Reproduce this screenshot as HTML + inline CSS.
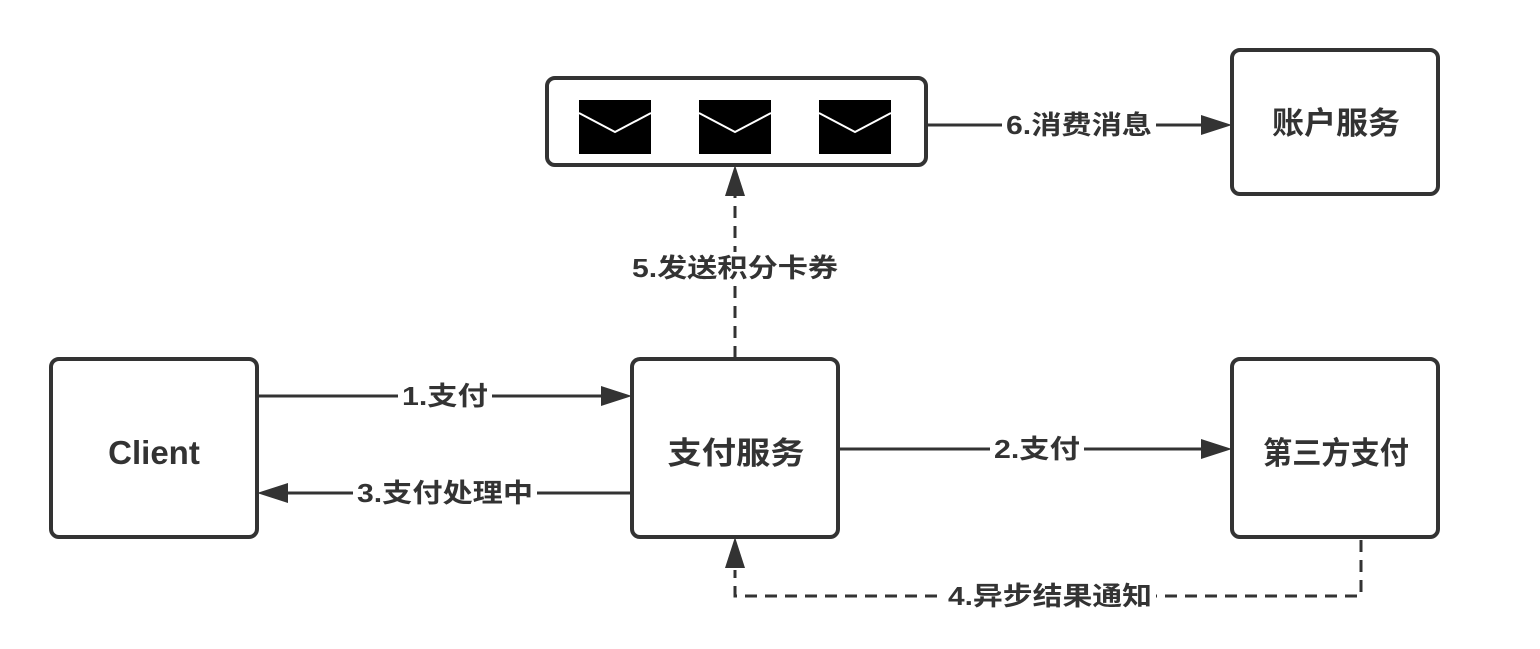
<!DOCTYPE html>
<html><head><meta charset="utf-8"><style>
body{margin:0;background:#fff;}
svg text{font-family:"Liberation Sans","Noto Sans CJK SC",sans-serif;font-weight:bold;fill:#333;}
</style></head><body>
<svg width="1540" height="644" viewBox="0 0 1540 644" xmlns="http://www.w3.org/2000/svg">
<g fill="#fff" stroke="#333" stroke-width="4">
<rect x="547" y="78" width="379" height="87" rx="8"/>
<rect x="51" y="359" width="206" height="178" rx="8"/>
<rect x="632" y="359" width="206" height="178" rx="8"/>
<rect x="1232" y="359" width="206" height="178" rx="8"/>
<rect x="1232" y="50" width="206" height="144" rx="8"/>
</g>
<g>
<rect x="579" y="100" width="72" height="54" fill="#000"/>
<rect x="699" y="100" width="72" height="54" fill="#000"/>
<rect x="819" y="100" width="72" height="54" fill="#000"/>
<g stroke="#fff" stroke-width="2" fill="none">
<path d="M579,113L615,132L651,113"/><path d="M699,113L735,132L771,113"/><path d="M819,113L855,132L891,113"/>
</g>
</g>
<g stroke="#333" stroke-width="3" fill="none">
<path d="M257,396H605"/>
<path d="M632,493H285"/>
<path d="M838,449H1205"/>
<path d="M926,125H1205"/>
<path d="M735,358V192" stroke-dasharray="12,8"/>
<path d="M1361,540V596H735V570" stroke-dasharray="12,8"/>
</g>
<g fill="#333">
<path d="M632,396L601,386L601,406z"/>
<path d="M257,493L288,483L288,503z"/>
<path d="M1232,449L1201,439L1201,459z"/>
<path d="M1232,125L1201,115L1201,135z"/>
<path d="M735,165L725,196L745,196z"/>
<path d="M735,537L725,568L745,568z"/>
</g>
<g font-size="26" text-anchor="start">
<rect x="398" y="380" width="94" height="30" fill="#fff"/><text x="402" y="405" textLength="86" lengthAdjust="spacingAndGlyphs">1.支付</text>
<rect x="353" y="477" width="184" height="30" fill="#fff"/><text x="357" y="502" textLength="176" lengthAdjust="spacingAndGlyphs">3.支付处理中</text>
<rect x="990" y="433" width="94" height="30" fill="#fff"/><text x="994" y="458" textLength="86" lengthAdjust="spacingAndGlyphs">2.支付</text>
<rect x="1002" y="109" width="154" height="30" fill="#fff"/><text x="1006" y="134" textLength="146" lengthAdjust="spacingAndGlyphs">6.消费消息</text>
<rect x="944" y="580" width="212" height="30" fill="#fff"/><text x="948" y="605" textLength="204" lengthAdjust="spacingAndGlyphs">4.异步结果通知</text>
<rect x="628" y="252" width="214" height="32" fill="#fff"/><text x="632" y="277" textLength="206" lengthAdjust="spacingAndGlyphs">5.发送积分卡券</text>
</g>
<g font-size="31" text-anchor="middle">
<text x="154" y="464" font-size="33">Client</text>
<text x="736" y="464" textLength="137" lengthAdjust="spacingAndGlyphs">支付服务</text>
<text x="1336" y="464" textLength="146" lengthAdjust="spacingAndGlyphs">第三方支付</text>
<text x="1336" y="134" textLength="128" lengthAdjust="spacingAndGlyphs">账户服务</text>
</g>
</svg>
</body></html>
